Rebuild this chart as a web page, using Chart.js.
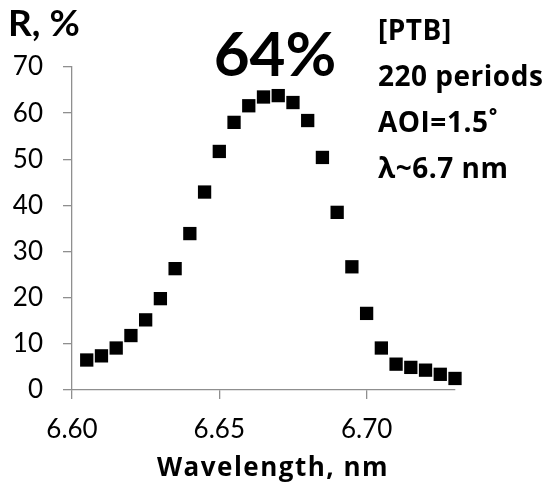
<!DOCTYPE html>
<html>
<head>
<meta charset="utf-8">
<script src="https://cdn.jsdelivr.net/npm/chart.js@4"></script>
<style>
  html, body { margin: 0; padding: 0; background: #fff; }
  #wrap { position: relative; width: 549px; height: 486px; }
</style>
</head>
<body>
<div id="wrap"><canvas id="our-chart" width="549" height="486"></canvas></div>
<script>
// Reflectance data
const wavelength = [6.605, 6.610, 6.615, 6.620, 6.625, 6.630, 6.635, 6.640, 6.645, 6.650,
  6.655, 6.660, 6.665, 6.670, 6.675, 6.680, 6.685, 6.690, 6.695, 6.700,
  6.705, 6.710, 6.715, 6.720, 6.725, 6.730];
const reflect = [6.5, 7.4, 9.1, 11.8, 15.2, 19.8, 26.3, 33.9, 42.9, 51.7,
  58.0, 61.6, 63.5, 63.8, 62.3, 58.4, 50.4, 38.5, 26.7, 16.6,
  9.1, 5.6, 4.9, 4.3, 3.4, 2.5];
const yTicks = [0, 10, 20, 30, 40, 50, 60, 70];
const xTicks = [6.60, 6.65, 6.70];
const infoLines = ['[PTB]', '220 periods', 'AOI=1.5˚', 'λ~6.7 nm'];

const points = wavelength.map((w, i) => ({ x: w, y: reflect[i] }));
const axisGray = '#8f8f8f';
const fontFam = 'Lato, "Open Sans", sans-serif';
const boldFam = '"Open Sans", Lato, sans-serif';

// extra text: y label, peak value, info block and x title
const textPlugin = {
  id: 'texts',
  afterDraw(chart) {
    const ctx = chart.ctx;
    ctx.save();
    ctx.fillStyle = '#000';
    ctx.textBaseline = 'alphabetic';
    ctx.textAlign = 'left';
    ctx.font = 'bold 37px ' + fontFam;
    ctx.fillText('R, %', 8, 36);
    ctx.textAlign = 'center';
    ctx.font = 'bold 62px ' + fontFam;
    ctx.fillText('64%', 275, 76);
    ctx.textAlign = 'left';
    ctx.letterSpacing = '0.5px';
    ctx.font = 'bold 28px ' + boldFam;
    infoLines.forEach((t, i) => ctx.fillText(t, 378, 40 + i * 46));
    ctx.textAlign = 'center';
    ctx.letterSpacing = '1.5px';
    ctx.font = 'bold 26px ' + boldFam;
    ctx.fillText('Wavelength, nm', 273, 476);
    ctx.restore();
  }
};

const ctx = document.getElementById('our-chart').getContext('2d');
const myChart = new Chart(ctx, {
  type: 'scatter',
  data: {
    datasets: [{
      data: points,
      pointStyle: 'rect',
      pointRadius: 9.4,
      pointHoverRadius: 9.4,
      backgroundColor: '#000',
      borderColor: '#000',
      borderWidth: 0,
      clip: false
    }]
  },
  options: {
    responsive: false,
    animation: false,
    events: [],
    layout: { padding: { left: 0, right: 94, top: 67, bottom: 0 } },
    plugins: { legend: { display: false }, tooltip: { enabled: false } },
    scales: {
      x: {
        type: 'linear',
        min: 6.60,
        max: 6.73,
        afterFit: s => { s.height = 96; },
        afterBuildTicks: s => { s.ticks = xTicks.map(v => ({ value: v })); },
        ticks: {
          color: '#000',
          font: { family: fontFam, size: 26 },
          padding: 15,
          callback: v => v.toFixed(2)
        },
        grid: { drawOnChartArea: false, tickLength: 9, color: axisGray, lineWidth: 1.3 },
        border: { color: axisGray, width: 1.3 }
      },
      y: {
        min: 0,
        max: 70,
        afterFit: s => { s.width = 72; },
        afterBuildTicks: s => { s.ticks = yTicks.map(v => ({ value: v })); },
        ticks: {
          color: '#000',
          font: { family: fontFam, size: 26 },
          padding: 20
        },
        grid: { drawOnChartArea: false, tickLength: 9, color: axisGray, lineWidth: 1.3 },
        border: { color: axisGray, width: 1.3 }
      }
    }
  },
  plugins: [textPlugin]
});
</script>
</body>
</html>
